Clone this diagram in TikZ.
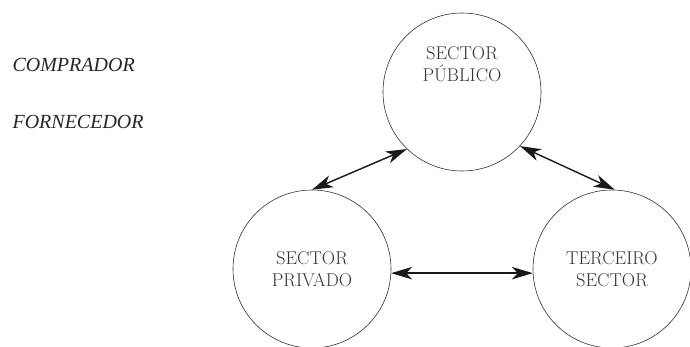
\documentclass[tikz,border=0pt]{standalone}
\usepackage{fontspec}
\newfontfamily\sidefont{Liberation Serif}
\usetikzlibrary{arrows.meta}
\begin{document}
\begin{tikzpicture}[x=1pt,y=1pt,
  sector/.style={draw=black!80,line width=0.6pt,circle,minimum size=158pt,inner sep=0pt},
  ctext/.style={align=center,font=\fontsize{18.5}{22}\selectfont,text=black!80},
  side/.style={anchor=base west,font=\sidefont\fontsize{20}{24}\selectfont\itshape,text=black!85},
  arr/.style={line width=1.4pt,black!90,{Stealth[length=21pt,width=12.5pt,inset=6pt]}-{Stealth[length=21pt,width=12.5pt,inset=6pt]}}]
\useasboundingbox (0,0) rectangle (690,346);
\node[sector] (T) at (462,254) {};
\node[sector] (L) at (312,77) {};
\node[sector] (R) at (612,77) {};
\node[ctext] (tT) at ([yshift=28pt]T.center) {SECTOR\\PÚBLICO};
\node[ctext] (tL) at (L.center) {SECTOR\\PRIVADO};
\node[ctext] (tR) at (R.center) {TERCEIRO\\SECTOR};
\node[side] (comp) at (9,274) {COMPRADOR};
\node[side] (forn) at (9,218) {FORNECEDOR};
\draw[arr] (L.90) -- (T.226);
\draw[arr] (T.317) -- (R.88);
\draw[arr] (L.-3) -- (R.183);
\end{tikzpicture}
\end{document}
